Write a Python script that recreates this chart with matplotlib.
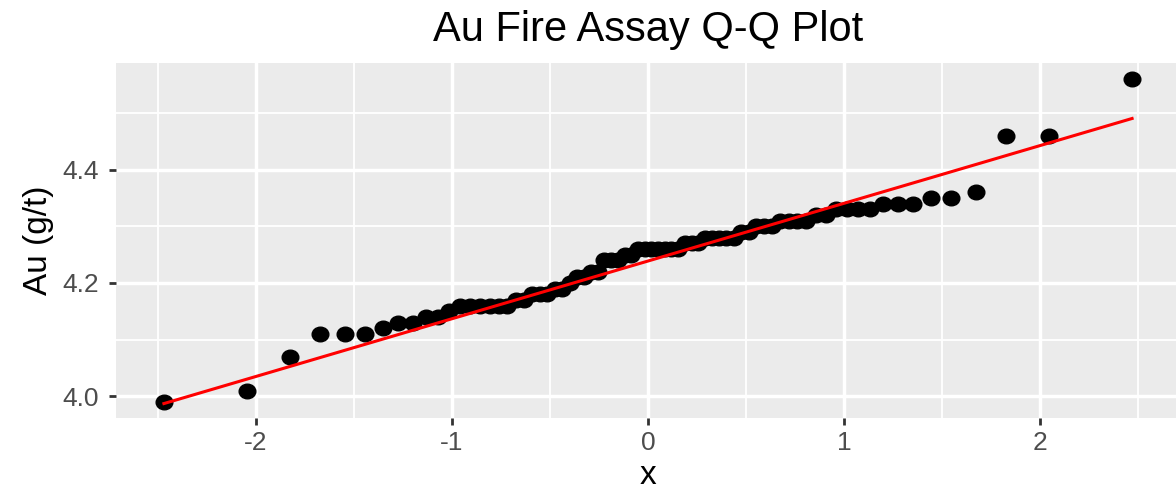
import numpy as np
import matplotlib
matplotlib.use("Agg")
import matplotlib.pyplot as plt
from matplotlib.path import Path
from matplotlib.transforms import Affine2D
from matplotlib.ticker import MultipleLocator
from statistics import NormalDist

# sorted Au fire assay results (g/t)
au_values = [
    3.99, 4.01, 4.07, 4.11, 4.11, 4.11, 4.12, 4.13, 4.13, 4.14,
    4.14, 4.15, 4.16, 4.16, 4.16, 4.16, 4.16, 4.16, 4.17, 4.17,
    4.18, 4.18, 4.18, 4.19, 4.19, 4.20, 4.21, 4.21, 4.22, 4.22,
    4.24, 4.24, 4.24, 4.25, 4.25, 4.26, 4.26, 4.26, 4.26, 4.26,
    4.26, 4.26, 4.27, 4.27, 4.27, 4.28, 4.28, 4.28, 4.28, 4.28,
    4.29, 4.29, 4.30, 4.30, 4.30, 4.31, 4.31, 4.31, 4.31, 4.32,
    4.32, 4.33, 4.33, 4.33, 4.33, 4.34, 4.34, 4.34, 4.35, 4.35,
    4.36, 4.46, 4.46, 4.56,
]
title = "Au Fire Assay Q-Q Plot"
x_label = "x"
y_label = "Au (g/t)"
x_ticks = [-2, -1, 0, 1, 2]
y_ticks = [4.0, 4.2, 4.4]

# stat_qq: theoretical normal quantiles at ppoints(n)
sample = np.sort(np.array(au_values))
n = len(sample)
probs = (np.arange(1, n + 1) - 0.5) / n
theo = np.array([NormalDist().inv_cdf(p) for p in probs])

# stat_qq_line: line through the 1st and 3rd quartiles
q1, q3 = np.quantile(sample, [0.25, 0.75])
z1, z3 = NormalDist().inv_cdf(0.25), NormalDist().inv_cdf(0.75)
slope = (q3 - q1) / (z3 - z1)
intercept = q1 - slope * z1
line_x = np.array([theo.min(), theo.max()])
line_y = intercept + slope * line_x

plt.rcParams["font.family"] = ["Liberation Sans", "DejaVu Sans"]

W, H = 1176, 497
fig = plt.figure(figsize=(W / 100, H / 100), dpi=100)
# panel runs past the right edge, as in the reference crop
ax = fig.add_axes([115.5 / W, 1 - 418 / H, 1065 / W, 355 / H])
ax.set_facecolor("#EBEBEB")
for s in ax.spines.values():
    s.set_visible(False)

xpad = 0.05 * (theo.max() - theo.min())
ypad = 0.05 * (sample.max() - sample.min())
ax.set_xlim(theo.min() - xpad, theo.max() + xpad)
ax.set_ylim(sample.min() - ypad, sample.max() + ypad)

ax.xaxis.set_major_locator(plt.FixedLocator(x_ticks))
ax.yaxis.set_major_locator(plt.FixedLocator(y_ticks))
ax.xaxis.set_minor_locator(MultipleLocator(1.0, offset=0.5))
ax.yaxis.set_minor_locator(MultipleLocator(0.2, offset=0.1))
ax.set_xticklabels([f"{t:g}" for t in x_ticks])
ax.set_yticklabels([f"{t:.1f}" for t in y_ticks])

ax.grid(which="major", color="white", linewidth=2.5)
ax.grid(which="minor", color="white", linewidth=1.3)
ax.set_axisbelow(True)
ax.tick_params(which="major", length=5, width=2.0, color="#333333",
               labelsize=19, labelcolor="#4D4D4D", pad=4)
ax.tick_params(axis="y", which="major", pad=7)
ax.tick_params(which="minor", length=0)

# points are slightly wider than tall in the reference
ellipse = Path.unit_circle().transformed(Affine2D().scale(1.14, 1.0))
ax.plot(theo, sample, linestyle="none", marker=ellipse, markersize=12,
        color="black", zorder=3)
ax.plot(line_x, line_y, color="red", linewidth=2.2, zorder=4)

ax.set_title(title, fontsize=30, pad=16)
ax.set_xlabel(x_label, fontsize=24, labelpad=4)
ax.set_ylabel(y_label, fontsize=24, labelpad=6)

fig.savefig("out.png", dpi=100)
